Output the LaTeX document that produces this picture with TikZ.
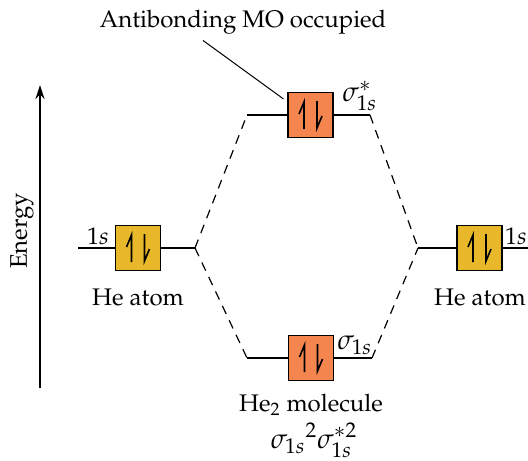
\documentclass[tikz,border=0pt]{standalone}
\usepackage[T1]{fontenc}
\usepackage{mathpazo}
\usepackage{tikz}
\usetikzlibrary{
  positioning,
  arrows.meta,
  calc
}
\definecolor{aofill}{HTML}{E8B82A}
\definecolor{mofill}{HTML}{F4854F}

% two paired electrons inside a box
\newcommand{\pairin}[1]{%
  \draw[spin] ($(#1)+(-6.5,14)$) -- ($(#1)+(-6.5,-13)$) -- ($(#1)+(-11.5,-1)$);
  \draw[spin] ($(#1)+(6.5,-14)$) -- ($(#1)+(6.5,13)$) -- ($(#1)+(11.5,1)$);
}

\begin{document}
\begin{tikzpicture}[
    x=0.5pt, y=-0.5pt,
    font=\large,
    >={Stealth[length=7pt, width=4.5pt]},
    orb/.style={draw, line width=0.6pt, minimum size=22.5pt, inner sep=0pt},
    ao/.style={orb, fill=aofill},
    mo/.style={orb, fill=mofill},
    spin/.style={line width=0.8pt},
    lvl/.style={line width=0.6pt},
    corr/.style={line width=0.6pt, dash pattern=on 4.5pt off 3.5pt},
    sig/.style={font=\fontsize{14}{16}\selectfont, inner sep=0pt}
]
    \useasboundingbox (0,0) rectangle (528,460);

    % energy axis
    \coordinate (ebot) at (40,388);
    \coordinate (etop) at (40,85);
    \draw[->, line width=0.6pt] (ebot) -- (etop);
    \node[rotate=90] (energy) at (22,231) {Energy};

    % atomic orbitals
    \node[ao] (aoL) at (138,248) {};
    \node[ao] (aoR) at (479.5,248) {};
    \pairin{aoL}
    \pairin{aoR}
    \coordinate (aoLa) at (78,248);
    \coordinate (aoLb) at (195,248);
    \coordinate (aoRa) at (418,248);
    \coordinate (aoRb) at (528,248);
    \draw[lvl] (aoLa) -- (aoL.west);
    \draw[lvl] (aoL.east) -- (aoLb);
    \draw[lvl] (aoRa) -- (aoR.west);
    \draw[lvl] (aoR.east) -- (aoRb);
    \node (lab1sL) at (98,236) {$1s$};
    \node (lab1sR) at (516,236) {$1s$};
    \node (heL) at (138,297) {He atom};
    \node (heR) at (480,297) {He atom};

    % molecular orbitals
    \node[mo] (mostar) at (310.5,115) {};
    \node[mo] (mobond) at (311,358) {};
    \pairin{mostar}
    \pairin{mobond}
    \coordinate (msa) at (247,115);
    \coordinate (msb) at (370,115);
    \coordinate (mba) at (247,358);
    \coordinate (mbb) at (372,358);
    \draw[lvl] (msa) -- (mostar.west);
    \draw[lvl] (mostar.east) -- (msb);
    \draw[lvl] (mba) -- (mobond.west);
    \draw[lvl] (mobond.east) -- (mbb);
    \node[sig, anchor=west] (labstar) at (342,96) {$\sigma_{1s}^{*}$};
    \node[sig, anchor=west] (labbond) at (337,345) {$\sigma_{1s}$};

    % correlation lines
    \draw[corr] (aoLb) -- (msa);
    \draw[corr] (aoLb) -- (mba);
    \draw[corr] (msb) -- (aoRa);
    \draw[corr] (mbb) -- (aoRa);

    % labels
    \node[anchor=base, inner sep=1pt] (he2) at (311,411) {He$_2$ molecule};
    \node[sig, anchor=base] (config) at (314,448) {$\sigma_{1s}{}^{2}\sigma_{1s}^{*2}$};
    \node[inner sep=1pt] (note) at (243,22) {Antibonding MO occupied};
    \draw[line width=0.5pt] ([shift={(-40,4)}]note.south) -- ([shift={(-4,7)}]mostar.north west);
\end{tikzpicture}
\end{document}
